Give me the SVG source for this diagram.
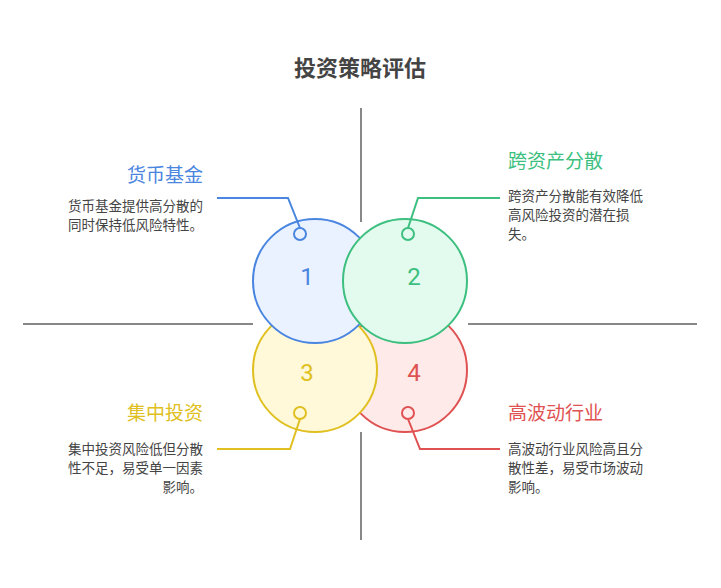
<svg xmlns="http://www.w3.org/2000/svg" width="721" height="588" viewBox="0 0 721 588">
<style>
text{font-family:"Noto Sans CJK SC","Noto Sans",sans-serif}
.t{font-size:19px}
.d{font-size:13.5px;fill:#444}
.n{font-size:24px;font-family:Roboto,sans-serif;text-anchor:middle}
.ax{stroke:#888;stroke-width:2}
.c{stroke-width:2}
.l{fill:none;stroke-width:2}
</style>
<rect width="721" height="588" fill="#fff"/>
<text x="360" y="76" text-anchor="middle" font-size="22" font-weight="bold" fill="#444">投资策略评估</text>
<g id="axes">
<line class="ax" x1="361" y1="108" x2="361" y2="222"/>
<line class="ax" x1="361" y1="432" x2="361" y2="540"/>
<line class="ax" x1="23" y1="324" x2="253" y2="324"/>
<line class="ax" x1="468" y1="324" x2="697" y2="324"/>
</g>
<g id="node4"><circle class="c" cx="405" cy="370" r="62" fill="#ffeaea" stroke="#e05252"/><text class="n" x="414" y="381" fill="#e05252">4</text></g>
<g id="node3"><circle class="c" cx="315" cy="370" r="62" fill="#fff9d9" stroke="#e0c020"/><text class="n" x="307" y="381" fill="#e0c020">3</text></g>
<g id="node1"><circle class="c" cx="315" cy="281" r="62" fill="#ebf2ff" stroke="#4a86e0"/><text class="n" x="307" y="285" fill="#4a86e0">1</text></g>
<g id="node2"><circle class="c" cx="405" cy="281" r="62" fill="#e2fbee" stroke="#3cbf7f"/><text class="n" x="414" y="285" fill="#3cbf7f">2</text></g>
<g id="connectors">
<path class="l" stroke="#4a86e0" d="M300 228 L288 198 L217 198"/>
<circle cx="300" cy="234" r="6" fill="none" stroke="#4a86e0" stroke-width="2"/>
<path class="l" stroke="#3cbf7f" d="M408 228 L418 198 L500 198"/>
<circle cx="408" cy="234" r="6" fill="none" stroke="#3cbf7f" stroke-width="2"/>
<path class="l" stroke="#e0c020" d="M300 419 L290 449 L217 449"/>
<circle cx="300" cy="413" r="6" fill="none" stroke="#e0c020" stroke-width="2"/>
<path class="l" stroke="#e05252" d="M408 419 L420 449 L500 449"/>
<circle cx="408" cy="413" r="6" fill="none" stroke="#e05252" stroke-width="2"/>
</g>
<g id="label1" text-anchor="end">
<text class="t" x="203" y="182" fill="#4a86e0">货币基金</text>
<text class="d" x="203" y="211">货币基金提供高分散的</text>
<text class="d" x="203" y="230">同时保持低风险特性。</text>
</g>
<g id="label2">
<text class="t" x="508" y="168" fill="#3cbf7f">跨资产分散</text>
<text class="d" x="508" y="201">跨资产分散能有效降低</text>
<text class="d" x="508" y="220">高风险投资的潜在损</text>
<text class="d" x="508" y="239">失。</text>
</g>
<g id="label3" text-anchor="end">
<text class="t" x="203" y="420" fill="#e0c020">集中投资</text>
<text class="d" x="203" y="454">集中投资风险低但分散</text>
<text class="d" x="203" y="473">性不足，易受单一因素</text>
<text class="d" x="203" y="492">影响。</text>
</g>
<g id="label4">
<text class="t" x="508" y="420" fill="#e05252">高波动行业</text>
<text class="d" x="508" y="454">高波动行业风险高且分</text>
<text class="d" x="508" y="473">散性差，易受市场波动</text>
<text class="d" x="508" y="492">影响。</text>
</g>
</svg>
